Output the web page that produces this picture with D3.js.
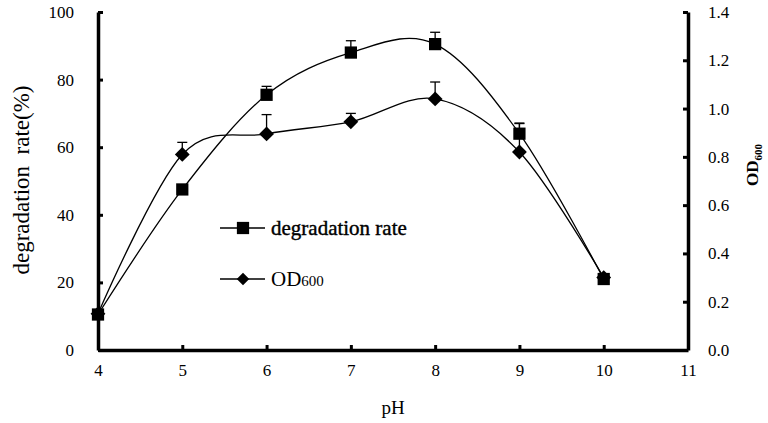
<!DOCTYPE html>
<html>
<head>
<meta charset="utf-8">
<script src="https://cdn.jsdelivr.net/npm/d3@7"></script>
<style>
  body { margin: 0; background: #fff; }
  svg text { font-family: "Liberation Serif", "DejaVu Serif", serif; fill: #000; }
</style>
</head>
<body>
<div id="chart"></div>
<script>
// data
var phValues = [4, 5, 6, 7, 8, 9, 10];
var degradation = [10.5, 47.5, 75.5, 88, 90.5, 64, 21];
var degradationErr = [0, 0, 2.5, 3.5, 3.5, 3, 0];
var od600 = [0.15, 0.81, 0.895, 0.945, 1.04, 0.82, 0.3];
var od600Err = [0, 0.05, 0.08, 0.035, 0.07, 0.12, 0];
var xTicks = [4, 5, 6, 7, 8, 9, 10, 11];
var leftTicks = [0, 20, 40, 60, 80, 100];
var rightTicks = [0, 0.2, 0.4, 0.6, 0.8, 1.0, 1.2, 1.4];

var width = 768, height = 423;
var margin = {top: 12, right: 80, bottom: 73, left: 98};
var w = width - margin.left - margin.right;
var h = height - margin.top - margin.bottom;

var svg = d3.select("#chart").append("svg")
    .attr("width", width)
    .attr("height", height);

var g = svg.append("g")
    .attr("transform", "translate(" + margin.left + "," + margin.top + ")");

var x = d3.scaleLinear().domain([4, 11]).range([0, w]);
var yL = d3.scaleLinear().domain([0, 100]).range([h, 0]);
var yR = d3.scaleLinear().domain([0, 1.4]).range([h, 0]);

// axes
var xAxis = g.append("g")
    .attr("transform", "translate(0," + h + ")")
    .call(d3.axisBottom(x).tickValues(xTicks).tickFormat(d3.format("d"))
      .tickSizeInner(-5).tickSizeOuter(0).tickPadding(14));
var leftAxis = g.append("g")
    .call(d3.axisLeft(yL).tickValues(leftTicks).tickFormat(d3.format("d"))
      .tickSizeInner(-5).tickSizeOuter(0).tickPadding(24));
var rightAxis = g.append("g")
    .attr("transform", "translate(" + w + ",0)")
    .call(d3.axisRight(yR).tickValues(rightTicks).tickFormat(d3.format(".1f"))
      .tickSizeInner(-5).tickSizeOuter(0).tickPadding(20));

[xAxis, leftAxis, rightAxis].forEach(function(a) {
  a.attr("font-family", null);
  a.select(".domain").attr("stroke", "#000").attr("stroke-width", 3.5);
  a.selectAll(".tick line").attr("stroke", "#000").attr("stroke-width", 3);
  a.selectAll(".tick text").style("font-size", "17px").style("font-family", "'Liberation Serif', serif");
});

// series
var line = d3.line().curve(d3.curveCardinal.tension(0));

var degPts = phValues.map(function(p, i) { return [x(p), yL(degradation[i])]; });
var odPts = phValues.map(function(p, i) { return [x(p), yR(od600[i])]; });

g.append("path").attr("d", line(degPts))
    .attr("fill", "none").attr("stroke", "#000").attr("stroke-width", 1.3);
g.append("path").attr("d", line(odPts))
    .attr("fill", "none").attr("stroke", "#000").attr("stroke-width", 1.3);

// error bars (upper only)
function errBars(vals, errs, scale) {
  var eb = g.append("g").selectAll("g")
      .data(phValues.map(function(p, i) { return {p: p, v: vals[i], e: errs[i]}; })
        .filter(function(d) { return d.e > 0; }))
      .enter().append("g");
  eb.append("line")
      .attr("x1", function(d) { return x(d.p); })
      .attr("x2", function(d) { return x(d.p); })
      .attr("y1", function(d) { return scale(d.v); })
      .attr("y2", function(d) { return scale(d.v + d.e); })
      .attr("stroke", "#000").attr("stroke-width", 1.3);
  eb.append("line")
      .attr("x1", function(d) { return x(d.p) - 5; })
      .attr("x2", function(d) { return x(d.p) + 5; })
      .attr("y1", function(d) { return scale(d.v + d.e); })
      .attr("y2", function(d) { return scale(d.v + d.e); })
      .attr("stroke", "#000").attr("stroke-width", 1.3);
}
errBars(degradation, degradationErr, yL);
errBars(od600, od600Err, yR);

var square = d3.symbol().type(d3.symbolSquare).size(150);
var diamond = d3.symbol().type(d3.symbolDiamond2).size(140);
var smallDiamond = d3.symbol().type(d3.symbolDiamond2).size(100);

g.append("g").selectAll("path")
    .data(odPts).enter().append("path")
    .attr("d", diamond)
    .attr("transform", function(d) { return "translate(" + d[0] + "," + d[1] + ")"; })
    .attr("fill", "#000");
g.append("g").selectAll("path")
    .data(degPts).enter().append("path")
    .attr("d", square)
    .attr("transform", function(d) { return "translate(" + d[0] + "," + d[1] + ")"; })
    .attr("fill", "#000");

// legend
var legend = svg.append("g");
var lg1 = legend.append("g").attr("transform", "translate(220,228)");
lg1.append("line").attr("x1", 0).attr("x2", 45).attr("stroke", "#000").attr("stroke-width", 1.5);
lg1.append("path").attr("d", square).attr("transform", "translate(23,0)").attr("fill", "#000");
lg1.append("text").attr("x", 51).attr("y", 7).attr("font-size", 21)
    .attr("stroke", "#000").attr("stroke-width", 0.4)
    .text("degradation rate");

var lg2 = legend.append("g").attr("transform", "translate(220,279)");
lg2.append("line").attr("x1", 0).attr("x2", 45).attr("stroke", "#000").attr("stroke-width", 1.5);
lg2.append("path").attr("d", smallDiamond).attr("transform", "translate(23,0)").attr("fill", "#000");
var t2 = lg2.append("text").attr("x", 51).attr("y", 7).attr("font-size", 21);
t2.append("tspan").text("OD");
t2.append("tspan").attr("font-size", 15).text("600");

// axis titles
svg.append("text")
    .attr("transform", "translate(29,180) rotate(-90)")
    .attr("text-anchor", "middle")
    .attr("font-size", 23)
    .attr("xml:space", "preserve")
    .style("white-space", "pre")
    .text("degradation  rate(%)");

var rt = svg.append("text")
    .attr("transform", "translate(758,165) rotate(-90)")
    .attr("text-anchor", "middle")
    .attr("font-size", 17)
    .attr("font-weight", "bold");
rt.append("tspan").text("OD");
rt.append("tspan").attr("font-size", 11).attr("dy", 4).text("600");

svg.append("text")
    .attr("x", x(7.5) + margin.left)
    .attr("y", 414)
    .attr("text-anchor", "middle")
    .attr("font-size", 19)
    .text("pH");
</script>
</body>
</html>
